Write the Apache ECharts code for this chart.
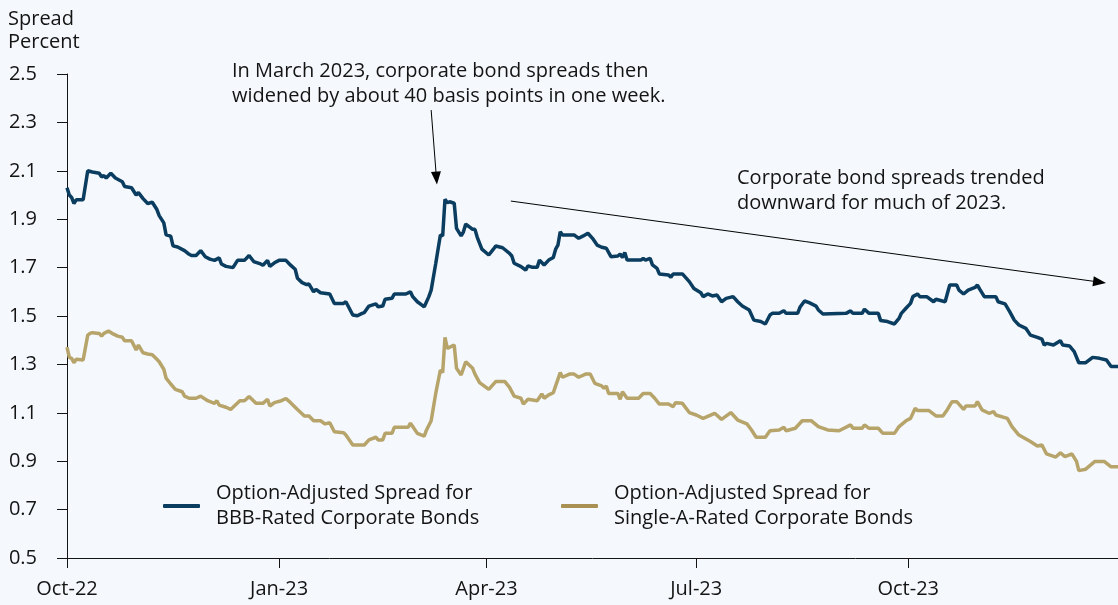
<!DOCTYPE html>
<html>
<head>
<meta charset="utf-8">
<script src="https://cdn.jsdelivr.net/npm/echarts@6/dist/echarts.min.js"></script>
<style>html,body{margin:0;padding:0;background:#f5f8fc;}#chart{width:1118px;height:605px;}</style>
</head>
<body>
<div id="chart"></div>
<script>
const FONT = 'Open Sans';
const bbbName = 'Option-Adjusted Spread for\nBBB-Rated Corporate Bonds';
const singleAName = 'Option-Adjusted Spread for\nSingle-A-Rated Corporate Bonds';

const xTickDates = ['2022-10-01','2023-01-01','2023-04-01','2023-07-01','2023-10-01'];
const xTickLabels = ['Oct-22','Jan-23','Apr-23','Jul-23','Oct-23'];
const yTicks = [0.5,0.7,0.9,1.1,1.3,1.5,1.7,1.9,2.1,2.3,2.5];

const bbbSeries = [
['2022-10-01',2.03],['2022-10-02',2.00],['2022-10-03',1.99],['2022-10-04',1.965],['2022-10-05',1.98],['2022-10-08',1.98],['2022-10-10',2.10],['2022-10-12',2.095],['2022-10-15',2.09],['2022-10-16',2.075],['2022-10-17',2.08],['2022-10-18',2.07],['2022-10-20',2.09],['2022-10-22',2.07],['2022-10-24',2.06],['2022-10-25',2.055],['2022-10-26',2.035],['2022-10-29',2.03],['2022-10-31',2.00],
['2022-11-01',2.01],['2022-11-03',1.985],['2022-11-05',1.965],['2022-11-07',1.97],['2022-11-09',1.94],['2022-11-10',1.915],['2022-11-12',1.885],['2022-11-13',1.835],['2022-11-15',1.83],['2022-11-16',1.79],['2022-11-18',1.785],['2022-11-21',1.77],['2022-11-23',1.755],['2022-11-24',1.75],['2022-11-26',1.75],['2022-11-28',1.77],['2022-11-30',1.745],
['2022-12-02',1.735],['2022-12-04',1.73],['2022-12-06',1.74],['2022-12-07',1.715],['2022-12-09',1.705],['2022-12-12',1.70],['2022-12-14',1.73],['2022-12-17',1.73],['2022-12-19',1.75],['2022-12-21',1.725],['2022-12-24',1.715],['2022-12-25',1.71],['2022-12-27',1.73],['2022-12-28',1.705],['2022-12-30',1.72],
['2023-01-01',1.73],['2023-01-04',1.73],['2023-01-06',1.71],['2023-01-08',1.693],['2023-01-09',1.656],['2023-01-11',1.638],['2023-01-13',1.63],['2023-01-14',1.632],['2023-01-16',1.60],['2023-01-17',1.61],['2023-01-19',1.596],['2023-01-23',1.591],['2023-01-25',1.552],['2023-01-29',1.552],['2023-01-30',1.559],
['2023-02-02',1.504],['2023-02-04',1.501],['2023-02-06',1.511],['2023-02-07',1.514],['2023-02-09',1.541],['2023-02-12',1.55],['2023-02-13',1.538],['2023-02-15',1.541],['2023-02-16',1.569],['2023-02-19',1.573],['2023-02-20',1.591],['2023-02-25',1.591],['2023-02-27',1.60],['2023-02-28',1.58],
['2023-03-02',1.559],['2023-03-04',1.545],['2023-03-05',1.538],['2023-03-07',1.58],['2023-03-08',1.607],['2023-03-10',1.718],['2023-03-12',1.835],['2023-03-13',1.831],['2023-03-14',1.982],['2023-03-15',1.968],['2023-03-16',1.972],['2023-03-18',1.966],['2023-03-19',1.862],['2023-03-21',1.831],['2023-03-22',1.848],['2023-03-23',1.88],['2023-03-26',1.858],['2023-03-27',1.858],['2023-03-28',1.825],['2023-03-30',1.776],
['2023-04-02',1.752],['2023-04-04',1.776],['2023-04-05',1.789],['2023-04-08',1.782],['2023-04-11',1.759],['2023-04-12',1.748],['2023-04-13',1.718],['2023-04-16',1.704],['2023-04-18',1.69],['2023-04-19',1.707],['2023-04-21',1.701],['2023-04-23',1.701],['2023-04-24',1.731],['2023-04-26',1.711],['2023-04-28',1.731],['2023-04-30',1.742],
['2023-05-01',1.776],['2023-05-02',1.793],['2023-05-03',1.848],['2023-05-04',1.835],['2023-05-09',1.835],['2023-05-11',1.821],['2023-05-13',1.831],['2023-05-15',1.842],['2023-05-17',1.821],['2023-05-19',1.793],['2023-05-21',1.784],['2023-05-23',1.78],['2023-05-25',1.745],['2023-05-28',1.748],['2023-05-29',1.756],['2023-05-30',1.742],['2023-05-31',1.762],
['2023-06-01',1.731],['2023-06-07',1.731],['2023-06-08',1.738],['2023-06-09',1.731],['2023-06-11',1.738],['2023-06-12',1.711],['2023-06-14',1.697],['2023-06-15',1.674],['2023-06-19',1.669],['2023-06-20',1.66],['2023-06-21',1.674],['2023-06-25',1.674],['2023-06-28',1.642],['2023-06-30',1.614],
['2023-07-03',1.596],['2023-07-04',1.58],['2023-07-06',1.591],['2023-07-08',1.583],['2023-07-10',1.587],['2023-07-12',1.559],['2023-07-14',1.573],['2023-07-17',1.58],['2023-07-19',1.559],['2023-07-21',1.541],['2023-07-24',1.525],['2023-07-26',1.483],['2023-07-29',1.477],['2023-07-31',1.467],
['2023-08-02',1.504],['2023-08-03',1.511],['2023-08-06',1.511],['2023-08-08',1.522],['2023-08-09',1.511],['2023-08-14',1.511],['2023-08-15',1.536],['2023-08-17',1.562],['2023-08-19',1.555],['2023-08-22',1.541],['2023-08-23',1.525],['2023-08-25',1.508],
['2023-09-04',1.511],['2023-09-06',1.521],['2023-09-07',1.511],['2023-09-11',1.511],['2023-09-12',1.528],['2023-09-14',1.511],['2023-09-18',1.511],['2023-09-19',1.481],['2023-09-22',1.477],['2023-09-25',1.467],['2023-09-27',1.49],['2023-09-28',1.511],['2023-09-30',1.532],
['2023-10-02',1.552],['2023-10-03',1.58],['2023-10-05',1.591],['2023-10-06',1.58],['2023-10-09',1.58],['2023-10-12',1.559],['2023-10-13',1.569],['2023-10-17',1.559],['2023-10-18',1.594],['2023-10-19',1.628],['2023-10-22',1.628],['2023-10-23',1.607],['2023-10-25',1.591],['2023-10-27',1.607],['2023-10-30',1.618],['2023-10-31',1.628],
['2023-11-01',1.611],['2023-11-03',1.58],['2023-11-08',1.58],['2023-11-09',1.559],['2023-11-12',1.55],['2023-11-14',1.518],['2023-11-16',1.483],['2023-11-18',1.463],['2023-11-21',1.449],['2023-11-23',1.421],['2023-11-26',1.412],['2023-11-28',1.404],['2023-11-29',1.38],['2023-11-30',1.387],
['2023-12-03',1.38],['2023-12-06',1.398],['2023-12-07',1.38],['2023-12-10',1.376],['2023-12-12',1.353],['2023-12-14',1.307],['2023-12-17',1.307],['2023-12-20',1.329],['2023-12-23',1.325],['2023-12-26',1.318],['2023-12-28',1.291],['2023-12-31',1.291]
];

const singleASeries = [
['2022-10-01',1.371],['2022-10-02',1.329],['2022-10-03',1.325],['2022-10-04',1.307],['2022-10-05',1.321],['2022-10-08',1.318],['2022-10-10',1.421],['2022-10-11',1.428],['2022-10-12',1.431],['2022-10-15',1.428],['2022-10-16',1.417],['2022-10-17',1.428],['2022-10-19',1.438],['2022-10-21',1.426],['2022-10-23',1.417],['2022-10-25',1.412],['2022-10-26',1.398],['2022-10-29',1.398],['2022-10-31',1.36],
['2022-11-01',1.38],['2022-11-03',1.348],['2022-11-05',1.343],['2022-11-07',1.34],['2022-11-09',1.321],['2022-11-10',1.311],['2022-11-12',1.28],['2022-11-13',1.243],['2022-11-15',1.219],['2022-11-17',1.197],['2022-11-20',1.187],['2022-11-21',1.169],['2022-11-23',1.16],['2022-11-26',1.16],['2022-11-28',1.169],
['2022-12-01',1.15],['2022-12-04',1.139],['2022-12-05',1.15],['2022-12-06',1.132],['2022-12-09',1.123],['2022-12-11',1.114],['2022-12-15',1.15],['2022-12-17',1.15],['2022-12-19',1.167],['2022-12-22',1.139],['2022-12-25',1.139],['2022-12-27',1.156],['2022-12-28',1.128],['2022-12-30',1.142],
['2023-01-02',1.15],['2023-01-04',1.159],['2023-01-06',1.142],['2023-01-09',1.114],['2023-01-12',1.087],['2023-01-14',1.087],['2023-01-16',1.067],['2023-01-19',1.067],['2023-01-21',1.054],['2023-01-23',1.059],['2023-01-25',1.022],['2023-01-29',1.018],['2023-01-30',1.008],
['2023-02-02',0.967],['2023-02-07',0.967],['2023-02-09',0.988],['2023-02-12',0.999],['2023-02-13',0.988],['2023-02-15',0.988],['2023-02-16',1.015],['2023-02-19',1.015],['2023-02-20',1.04],['2023-02-26',1.04],['2023-02-27',1.057],['2023-02-28',1.043],
['2023-03-02',1.015],['2023-03-05',1.004],['2023-03-06',1.029],['2023-03-08',1.067],['2023-03-10',1.181],['2023-03-12',1.277],['2023-03-13',1.266],['2023-03-14',1.412],['2023-03-15',1.366],['2023-03-18',1.38],['2023-03-19',1.284],['2023-03-21',1.256],['2023-03-23',1.311],['2023-03-26',1.284],['2023-03-27',1.26],['2023-03-29',1.225],
['2023-04-02',1.197],['2023-04-05',1.229],['2023-04-09',1.229],['2023-04-11',1.205],['2023-04-13',1.169],['2023-04-16',1.16],['2023-04-17',1.136],['2023-04-19',1.156],['2023-04-23',1.15],['2023-04-25',1.178],['2023-04-26',1.16],['2023-04-28',1.174],['2023-04-30',1.183],
['2023-05-01',1.211],['2023-05-03',1.266],['2023-05-04',1.247],['2023-05-07',1.26],['2023-05-09',1.26],['2023-05-11',1.247],['2023-05-14',1.26],['2023-05-16',1.26],['2023-05-18',1.222],['2023-05-21',1.211],['2023-05-22',1.201],['2023-05-23',1.211],['2023-05-24',1.18],['2023-05-28',1.18],['2023-05-29',1.156],['2023-05-30',1.187],
['2023-06-01',1.16],['2023-06-06',1.16],['2023-06-08',1.18],['2023-06-11',1.18],['2023-06-13',1.16],['2023-06-15',1.136],['2023-06-19',1.136],['2023-06-21',1.125],['2023-06-22',1.142],['2023-06-25',1.139],['2023-06-28',1.101],
['2023-07-01',1.091],['2023-07-04',1.077],['2023-07-09',1.098],['2023-07-12',1.073],['2023-07-16',1.101],['2023-07-19',1.07],['2023-07-23',1.054],['2023-07-25',1.029],['2023-07-27',0.999],['2023-07-31',0.999],
['2023-08-02',1.026],['2023-08-06',1.029],['2023-08-08',1.04],['2023-08-09',1.026],['2023-08-13',1.036],['2023-08-16',1.067],['2023-08-20',1.067],['2023-08-23',1.043],['2023-08-27',1.029],
['2023-09-01',1.026],['2023-09-06',1.05],['2023-09-07',1.036],['2023-09-11',1.036],['2023-09-12',1.05],['2023-09-14',1.036],['2023-09-18',1.036],['2023-09-20',1.015],['2023-09-25',1.015],['2023-09-27',1.043],['2023-09-30',1.067],
['2023-10-02',1.077],['2023-10-04',1.119],['2023-10-05',1.109],['2023-10-10',1.109],['2023-10-13',1.087],['2023-10-16',1.087],['2023-10-18',1.114],['2023-10-20',1.146],['2023-10-22',1.146],['2023-10-25',1.114],['2023-10-26',1.128],['2023-10-30',1.128],['2023-10-31',1.146],
['2023-11-02',1.112],['2023-11-05',1.098],['2023-11-07',1.105],['2023-11-08',1.091],['2023-11-13',1.077],['2023-11-15',1.043],['2023-11-18',1.008],['2023-11-23',0.981],['2023-11-26',0.963],['2023-11-28',0.967],['2023-11-30',0.93],
['2023-12-04',0.917],['2023-12-06',0.935],['2023-12-08',0.919],['2023-12-11',0.93],['2023-12-13',0.899],['2023-12-14',0.861],['2023-12-17',0.867],['2023-12-21',0.899],['2023-12-25',0.899],['2023-12-28',0.877],['2023-12-31',0.877]
];

// annotation arrows: [start, end] as [date hour, value]
const arrowMarch = [['2023-03-08 00', 2.351], ['2023-03-10 07', 2.07]];
const arrowTrend = [['2023-04-11 14', 1.975], ['2023-12-23 00', 1.640]];

function toTime(s) {
  const parts = s.split(' ');
  const d = parts[0].split('-').map(Number);
  const h = parts[1] ? Number(parts[1]) : 0;
  return new Date(d[0], d[1] - 1, d[2], h).getTime();
}
const xTickTimes = xTickDates.map(toTime);
const ink = '#141414';
const navy = '#0a3d5f';
const gold = '#b7a46b';

const chart = echarts.init(document.getElementById('chart'), null, {renderer: 'canvas'});
chart.setOption({
  backgroundColor: '#f5f8fc',
  animation: false,
  textStyle: {fontFamily: FONT},
  grid: {left: 67, right: 0, top: 74, bottom: 47},
  xAxis: {
    type: 'value',
    min: toTime('2022-10-01'),
    max: toTime('2023-12-31'),
    axisLine: {lineStyle: {color: ink, width: 1}},
    axisTick: {show: true, length: 10, customValues: xTickTimes, lineStyle: {color: ink, width: 1}},
    axisLabel: {
      customValues: xTickTimes,
      formatter: function (v) { const i = xTickTimes.indexOf(v); return i >= 0 ? xTickLabels[i] : ''; },
      fontSize: 20, color: ink, margin: 21, fontFamily: FONT
    },
    splitLine: {show: false}
  },
  yAxis: {
    type: 'value',
    min: 0.5, max: 2.5,
    axisLine: {show: true, lineStyle: {color: ink, width: 1}},
    axisTick: {show: true, length: 10, customValues: yTicks, lineStyle: {color: ink, width: 1}},
    axisLabel: {customValues: yTicks, formatter: function (v) { return v.toFixed(1); }, fontSize: 20, color: ink, margin: 30, fontFamily: FONT},
    splitLine: {show: false}
  },
  legend: [
    {data: [{name: bbbName, itemStyle: {color: navy}}], left: 163, top: 481, padding: 0, icon: 'roundRect', itemWidth: 37, itemHeight: 4, selectedMode: false,
     textStyle: {fontSize: 20, lineHeight: 25, color: ink, fontFamily: FONT, padding: [0, 0, 0, 11]}},
    {data: [{name: singleAName, itemStyle: {color: '#a99153'}}], left: 561, top: 481, padding: 0, icon: 'roundRect', itemWidth: 37, itemHeight: 4, selectedMode: false,
     textStyle: {fontSize: 20, lineHeight: 25, color: ink, fontFamily: FONT, padding: [0, 0, 0, 11]}}
  ],
  series: [
    {
      name: bbbName, type: 'line', showSymbol: false, color: navy,
      lineStyle: {width: 3.5, color: navy},
      data: bbbSeries.map(function (p) { return [toTime(p[0]), p[1]]; }),
      markLine: {
        silent: true, symbol: ['none', 'triangle'], symbolSize: [10, 13],
        lineStyle: {color: '#000', width: 1, type: 'solid'},
        label: {show: false},
        emphasis: {disabled: true},
        data: [
          [{coord: [toTime(arrowMarch[0][0]), arrowMarch[0][1]]}, {coord: [toTime(arrowMarch[1][0]), arrowMarch[1][1]]}],
          [{coord: [toTime(arrowTrend[0][0]), arrowTrend[0][1]]}, {coord: [toTime(arrowTrend[1][0]), arrowTrend[1][1]]}]
        ]
      }
    },
    {
      name: singleAName, type: 'line', showSymbol: false, color: gold,
      lineStyle: {width: 3.5, color: gold},
      data: singleASeries.map(function (p) { return [toTime(p[0]), p[1]]; })
    }
  ],
  graphic: [
    {type: 'text', left: 8, top: 8, style: {text: 'Spread\nPercent', font: '20px ' + FONT, fill: ink, lineHeight: 23}},
    {type: 'text', left: 232, top: 59, style: {text: 'In March 2023, corporate bond spreads then\nwidened by about 40 basis points in one week.', font: '20px ' + FONT, fill: ink, lineHeight: 25}},
    {type: 'text', left: 737, top: 166, style: {text: 'Corporate bond spreads trended\ndownward for much of 2023.', font: '20px ' + FONT, fill: ink, lineHeight: 25}}
  ]
});
</script>
</body>
</html>
